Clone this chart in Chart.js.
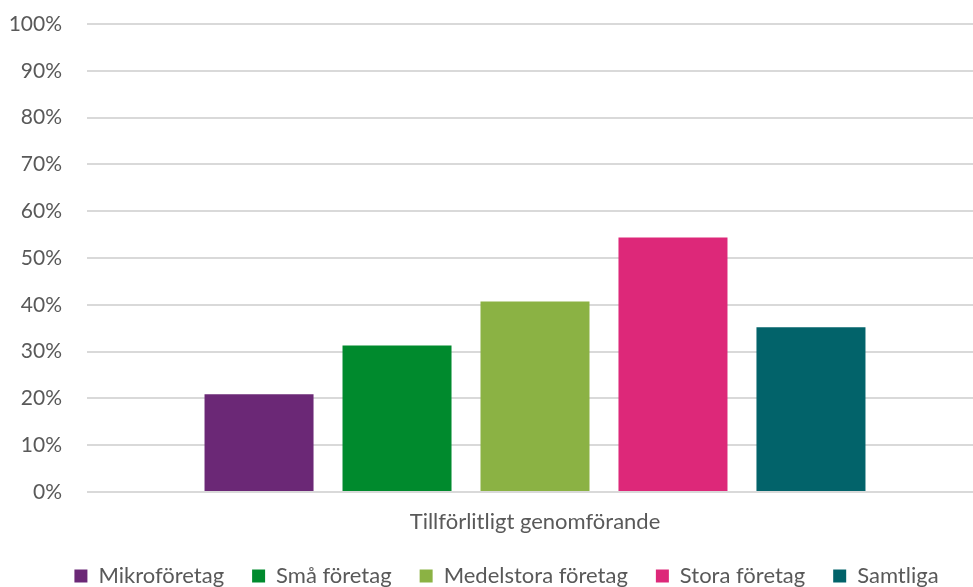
<!DOCTYPE html>
<html>
<head>
<meta charset="utf-8">
<script src="https://cdn.jsdelivr.net/npm/chart.js@4"></script>
<style>
html,body{margin:0;padding:0;background:#fff;}
#wrap{width:973px;height:587px;}
</style>
</head>
<body>
<div id="wrap"><canvas id="c" width="973" height="587"></canvas></div>
<script>
const categories = ["Tillförlitligt genomförande"];
const seriesNames = ["Mikroföretag", "Små företag", "Medelstora företag", "Stora företag", "Samtliga"];
const mikro = [20.9];
const sma = [31.3];
const medelstora = [40.7];
const stora = [54.4];
const samtliga = [35.2];
const yTicks = [0, 10, 20, 30, 40, 50, 60, 70, 80, 90, 100];

const colors = ["#6B2876", "#008A2D", "#8BB244", "#DD2879", "#02636A"];
const seriesValues = [mikro, sma, medelstora, stora, samtliga];

const FONT = "Lato, 'Open Sans', sans-serif";
const TXT = "#595959";

const legendFit = {
  id: 'legendFit',
  beforeInit(chart) {
    const orig = chart.legend.fit;
    chart.legend.fit = function () {
      orig.call(this);
      this.height = 50;
    };
  }
};

// plot area continues slightly past the right edge of the picture;
// legend is centred under the (wider) plot area
const extendRight = {
  id: 'extendRight',
  afterLayout(chart) {
    const ext = 10;
    const x = chart.scales.x;
    x.right += ext;
    x.width += ext;
    x.configure();
    chart.chartArea.right += ext;
    chart.chartArea.width += ext;
    chart.legend.left += 20;
    chart.legend.right += 20;
  }
};

new Chart(document.getElementById('c'), {
  type: 'bar',
  data: {
    labels: categories,
    datasets: seriesNames.map((n, i) => ({
      label: n,
      data: seriesValues[i],
      backgroundColor: colors[i],
      borderWidth: 0,
      categoryPercentage: 0.770,
      barPercentage: 0.79
    }))
  },
  plugins: [legendFit, extendRight],
  options: {
    responsive: false,
    animation: false,
    layout: { padding: { top: 24, right: 0, left: 0, bottom: 0 } },
    plugins: {
      legend: {
        position: 'bottom',
        labels: {
          boxWidth: 13, boxHeight: 13, padding: 28,
          color: TXT,
          font: { family: FONT, size: 22 }
        }
      },
      tooltip: { enabled: false }
    },
    scales: {
      x: {
        grid: { display: false, drawTicks: false },
        border: { display: false },
        ticks: { color: TXT, font: { family: FONT, size: 22 }, padding: 17 },
        afterFit: (s) => { s.height = 45; s.paddingLeft = 0; s.paddingRight = 0; }
      },
      y: {
        min: 0, max: 100,
        afterBuildTicks: (axis) => { axis.ticks = yTicks.map(v => ({ value: v })); },
        afterFit: (s) => { s.width = 87; s.paddingTop = 0; s.paddingBottom = 0; },
        grid: { color: '#D9D9D9', lineWidth: 2, drawTicks: false },
        border: { display: false },
        ticks: {
          color: TXT,
          font: { family: FONT, size: 21 },
          padding: 25,
          callback: (v) => v + '%'
        }
      }
    }
  }
});
</script>
</body>
</html>
